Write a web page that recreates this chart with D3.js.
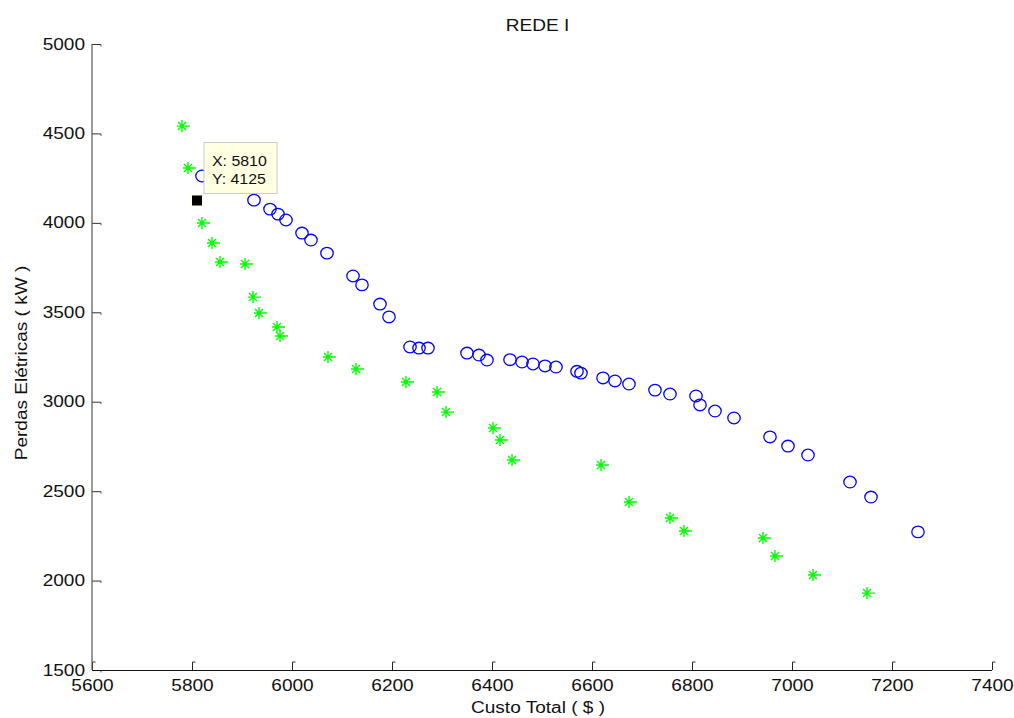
<!DOCTYPE html>
<html>
<head>
<meta charset="utf-8">
<script src="https://cdn.jsdelivr.net/npm/d3@7/dist/d3.min.js"></script>
<style>
body{margin:0;background:#fff;}
svg{display:block;font-family:"Liberation Sans",Arial,sans-serif;}
</style>
</head>
<body>
<svg id="chart" width="1014" height="718"></svg>
<script>
const xTicks = [5600, 5800, 6000, 6200, 6400, 6600, 6800, 7000, 7200, 7400];
const yTicks = [1500, 2000, 2500, 3000, 3500, 4000, 4500, 5000];

const blueX = [5820,5924,5956,5972,5988,6020,6038,6070,6122,6140,6176,6194,6236,6254,6272,6350,6374,6390,6436,6460,6482,6506,6528,6570,6578,6622,6646,6674,6726,6756,6808,6816,6846,6884,6956,6992,7032,7116,7158,7252];
const blueY = [4262,4127,4077,4049,4016,3943,3904,3831,3703,3653,3546,3474,3306,3300,3300,3272,3261,3233,3235,3222,3211,3200,3194,3170,3160,3133,3116,3099,3065,3043,3032,2982,2948,2909,2803,2752,2702,2551,2467,2272];

const greenX = [5780,5792,5820,5840,5856,5906,5922,5934,5970,5976,6072,6128,6228,6290,6308,6402,6416,6440,6618,6674,6756,6784,6942,6966,7042,7150];
const greenY = [4541,4307,3999,3887,3781,3770,3585,3496,3418,3367,3250,3183,3110,3054,2942,2853,2786,2674,2646,2439,2350,2277,2238,2137,2031,1930];

const tipX = 5810, tipY = 4125;

(function () {
const svg = d3.select("#chart");
const pL = 92, pR = 992, pT = 44, pB = 670;
const x = d3.scaleLinear().domain([5600, 7400]).range([pL, pR]);
const y = d3.scaleLinear().domain([1500, 5000]).range([pB, pT]);
const SX = 1.19;

// axes
const xAxis = d3.axisBottom(x).tickValues(xTicks).tickSizeInner(-8).tickSizeOuter(0).tickPadding(10).tickFormat(d3.format("d"));
const gx = svg.append("g").attr("transform", `translate(0,${pB})`).call(xAxis);
gx.select(".domain").remove();
gx.selectAll(".tick line").attr("stroke", "#222").attr("stroke-width", 1);
gx.selectAll(".tick text").attr("fill", "#111").style("font-size", "16px")
  .attr("transform", `scale(${SX},1)`);

const yAxis = d3.axisLeft(y).tickValues(yTicks).tickSizeInner(-9).tickSizeOuter(0).tickPadding(7).tickFormat(d3.format("d"));
const gy = svg.append("g").attr("transform", `translate(${pL},0)`).call(yAxis);
gy.select(".domain").remove();
gy.selectAll(".tick line").attr("stroke", "#333").attr("stroke-width", 1);
gy.selectAll(".tick text").attr("fill", "#111").style("font-size", "16px")
  .attr("x", -7 / SX).attr("transform", `scale(${SX},1)`);

// small hooks at tick ends
gx.selectAll(".tick").append("line").attr("x1", 0).attr("x2", 3).attr("y1", -8).attr("y2", -8).attr("stroke", "#333");
gy.selectAll(".tick").append("line").attr("x1", 9).attr("x2", 9).attr("y1", 0).attr("y2", 2).attr("stroke", "#555");

// axis lines
svg.append("line").attr("x1", pL).attr("x2", pL).attr("y1", pT).attr("y2", pB).attr("stroke", "#555").attr("stroke-width", 1.2);
svg.append("line").attr("x1", pL).attr("x2", pR).attr("y1", pB + 0.5).attr("y2", pB + 0.5).attr("stroke", "#111").attr("stroke-width", 1.2);

// blue circles
svg.append("g").selectAll("ellipse").data(blueX.map((d, i) => [d, blueY[i]])).join("ellipse")
  .attr("cx", d => x(d[0])).attr("cy", d => y(d[1])).attr("rx", 6.2).attr("ry", 5.8)
  .attr("fill", "none").attr("stroke", "#0000ff").attr("stroke-width", 1.3);

// green stars
const star = "M-5,0H8M0,-6V6M-4,-4L4,4M-4,4L4,-4";
svg.append("g").selectAll("path").data(greenX.map((d, i) => [d, greenY[i]])).join("path")
  .attr("transform", d => `translate(${x(d[0])},${y(d[1])})`).attr("d", star)
  .attr("fill", "none").attr("stroke", "#00ff00").attr("stroke-width", 1.4);

// data tip
svg.append("rect").attr("x", x(tipX) - 6.5).attr("y", y(tipY) - 6.5).attr("width", 13).attr("height", 13).attr("fill", "#ffffe1");
svg.append("rect").attr("x", x(tipX) - 5).attr("y", y(tipY) - 5).attr("width", 10).attr("height", 10).attr("fill", "#000");
const bx = x(tipX) + 7, by = y(tipY) - 58;
svg.append("rect").attr("x", bx).attr("y", by).attr("width", 73).attr("height", 51)
  .attr("fill", "#ffffe1").attr("stroke", "#cccccc").attr("stroke-width", 1);
const tip = svg.append("g").style("font-size", "15px").attr("fill", "#111");
tip.append("text").attr("transform", `translate(${bx + 8},${by + 23}) scale(1.06,1)`).text("X: " + tipX);
tip.append("text").attr("transform", `translate(${bx + 8},${by + 41}) scale(1.06,1)`).text("Y: " + tipY);

// titles
svg.append("text").attr("transform", `translate(537.5,31) scale(${SX},1)`).attr("text-anchor", "middle")
  .style("font-size", "16px").attr("fill", "#111").text("REDE I");
svg.append("text").attr("transform", `translate(538,713) scale(${SX},1)`).attr("text-anchor", "middle")
  .style("font-size", "16px").attr("fill", "#111").text("Custo Total ( $ )");
svg.append("text").attr("transform", `translate(27,363) rotate(-90) scale(${SX},1)`).attr("text-anchor", "middle")
  .style("font-size", "16px").attr("fill", "#111").text("Perdas Elétricas ( kW )");
})();
</script>
</body>
</html>
